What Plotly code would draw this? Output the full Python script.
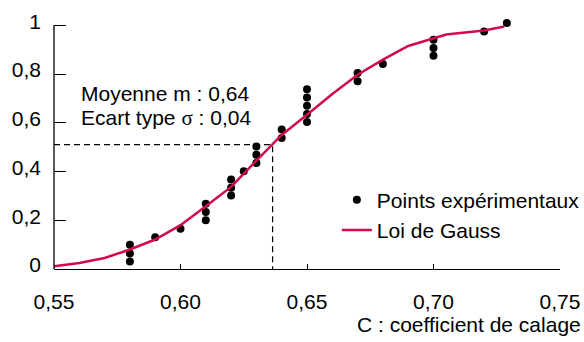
import plotly.graph_objects as go

# Experimental points (C, cumulative frequency)
pts_x = [0.58, 0.58, 0.58, 0.59, 0.60, 0.61, 0.61, 0.61, 0.62, 0.62, 0.62, 0.625,
         0.63, 0.63, 0.63, 0.64, 0.64, 0.65, 0.65, 0.65, 0.65, 0.65,
         0.67, 0.67, 0.68, 0.70, 0.70, 0.70, 0.72, 0.729]
pts_y = [0.100, 0.064, 0.031, 0.130, 0.165, 0.268, 0.234, 0.200, 0.367, 0.333, 0.302, 0.401,
         0.503, 0.469, 0.435, 0.572, 0.538, 0.738, 0.704, 0.670, 0.636, 0.603,
         0.804, 0.770, 0.841, 0.941, 0.907, 0.875, 0.975, 1.009]

# Gauss law curve
curve_x = [0.55, 0.56, 0.57, 0.58, 0.59, 0.60, 0.61, 0.62, 0.63, 0.64, 0.65, 0.66,
           0.67, 0.68, 0.69, 0.70, 0.705, 0.72, 0.728]
curve_y = [0.011, 0.025, 0.045, 0.080, 0.121, 0.180, 0.258, 0.337, 0.445, 0.550, 0.633, 0.718,
           0.797, 0.859, 0.915, 0.945, 0.962, 0.979, 0.995]

# Dashed guide (mean / half level)
guide_x = [0.55, 0.6364, 0.6364]
guide_y = [0.51, 0.51, 0.0]

x_ticks = [0.55, 0.60, 0.65, 0.70, 0.75]
x_labels = ["0,55", "0,60", "0,65", "0,70", "0,75"]
y_ticks = [0, 0.2, 0.4, 0.6, 0.8, 1]
y_labels = ["0", "0,2", "0,4", "0,6", "0,8", "1"]

FONT = "Liberation Sans, Arial, Helvetica, sans-serif"
RED = "#d2094f"
FS = 21

fig = go.Figure()
fig.add_trace(go.Scatter(x=guide_x, y=guide_y, mode="lines", showlegend=False,
                         line=dict(color="black", width=1.2, dash="6px,4px"), hoverinfo="skip"))
fig.add_trace(go.Scatter(x=pts_x, y=pts_y, mode="markers", name="Points expérimentaux",
                         marker=dict(color="black", size=8)))
fig.add_trace(go.Scatter(x=curve_x, y=curve_y, mode="lines", name="Loi de Gauss",
                         line=dict(color=RED, width=2.5)))

fig.update_layout(
    width=584, height=342,
    margin=dict(l=54, r=23.5, t=18.2, b=72.5, autoexpand=False),
    paper_bgcolor="white", plot_bgcolor="white",
    font=dict(family=FONT, size=FS, color="black"),
    showlegend=True,
    legend=dict(x=0.559, y=0.356, xanchor="left", yanchor="top",
                bgcolor="rgba(0,0,0,0)", font=dict(size=FS), tracegroupgap=0),
    xaxis=dict(range=[0.55, 0.75], tickvals=x_ticks, ticktext=x_labels,
               showgrid=False, zeroline=False, showline=True, linecolor="black", linewidth=1.3,
               ticks="inside", ticklen=5, tickwidth=1.3, tickcolor="black",
               ticklabelstandoff=14, tickfont=dict(size=FS)),
    yaxis=dict(range=[0, 1.03], tickvals=y_ticks, ticktext=y_labels,
               showgrid=False, zeroline=False, showline=False,
               ticks="inside", ticklen=12, tickwidth=1.3, tickcolor="black",
               ticklabelstandoff=12, ticklabelshift=-4, tickfont=dict(size=FS)),
    shapes=[dict(type="line", xref="paper", yref="y", x0=0, x1=0, y0=0, y1=1,
                 line=dict(color="black", width=1.3))],
    annotations=[
        dict(text="Moyenne m : 0,64", xref="paper", yref="paper", x=0.0494, y=0.698,
             xanchor="left", yanchor="middle", showarrow=False, font=dict(size=FS)),
        dict(text="Ecart type <span style=\"font-family:Liberation Serif, Times New Roman, serif\">σ</span> : 0,04",
             xref="paper", yref="paper", x=0.0494, y=0.603,
             xanchor="left", yanchor="middle", showarrow=False, font=dict(size=FS)),
        dict(text="C : coefficient de calage", xref="paper", yref="paper", x=1.045, y=-0.221,
             xanchor="right", yanchor="middle", showarrow=False, font=dict(size=FS)),
    ],
)

fig.write_html("out.html")
